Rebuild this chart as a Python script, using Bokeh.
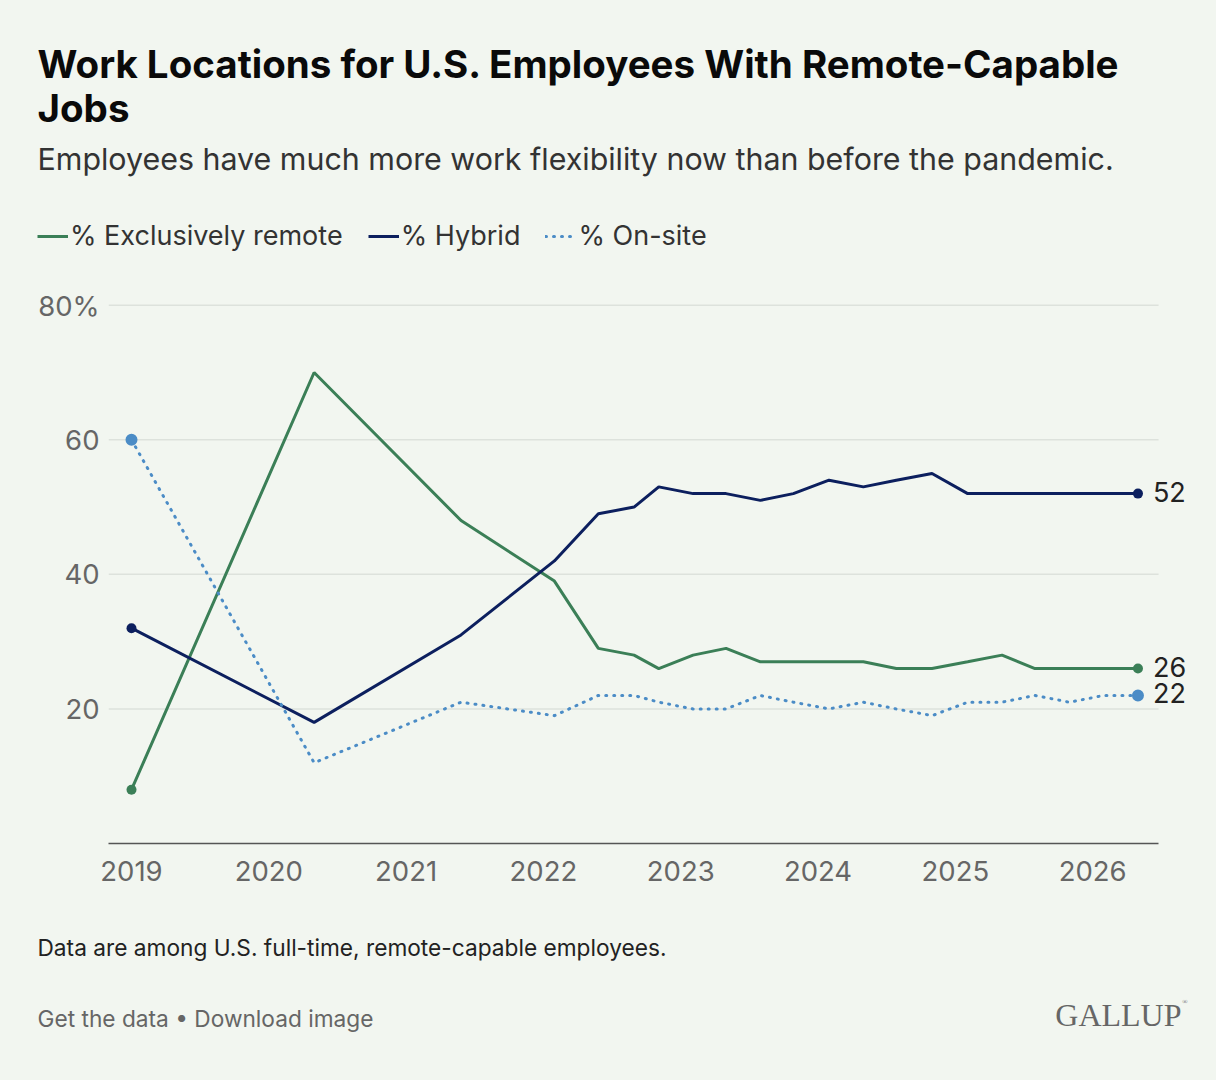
from bokeh.plotting import figure
from bokeh.layouts import column
from bokeh.models import (ColumnDataSource, Label, LabelSet, Legend, LegendItem,
                          FixedTicker, Range1d)
from bokeh.core.properties import value
from bokeh.embed import file_html
from bokeh.resources import INLINE

# ---- data ----
dates = [2019.0, 2020.33, 2021.40, 2022.08, 2022.40, 2022.66, 2022.84, 2023.09,
         2023.33, 2023.58, 2023.82, 2024.08, 2024.33, 2024.57, 2024.83, 2025.09,
         2025.34, 2025.58, 2025.83, 2026.08, 2026.33]
remote = [8, 70, 48, 39, 29, 28, 26, 28, 29, 27, 27, 27, 27, 26, 26, 27, 28, 26, 26, 26, 26]
hybrid = [32, 18, 31, 42, 49, 50, 53, 52, 52, 51, 52, 54, 53, 54, 55, 52, 52, 52, 52, 52, 52]
onsite = [60, 12, 21, 19, 22, 22, 21, 20, 20, 22, 21, 20, 21, 20, 19, 21, 21, 22, 21, 22, 22]
series_names = ["% Exclusively remote", "% Hybrid", "% On-site"]
year_ticks = [2019, 2020, 2021, 2022, 2023, 2024, 2025, 2026]
y_ticks = [20, 40, 60, 80]
y_tick_labels = ["20", "40", "60", "80%"]

GREEN = "#3b7f57"
NAVY = "#0c1f5e"
BLUE = "#4b8cc6"
BG = "#f2f6f0"
FONT = "Inter"

W = 1216
X0, X_DATA_END, X_FRAME_END = 2018.8325, 2026.48, 2026.902  # plot extent

src = ColumnDataSource(dict(x=dates, remote=remote, hybrid=hybrid, onsite=onsite))


def bare(height):
    f = figure(width=W, height=height, output_backend="svg", toolbar_location=None,
               x_range=Range1d(0, 1), y_range=Range1d(0, 1),
               x_axis_type=None, y_axis_type=None, min_border=0,
               min_border_left=0, min_border_right=0, min_border_top=0, min_border_bottom=0,
               background_fill_color=BG, border_fill_color=BG,
               outline_line_color=None)
    f.grid.visible = False
    return f


def txt(f, base_y, text, px, py, size, color, style="normal", font=FONT, align="left"):
    f.add_layout(Label(x=px, y=base_y - py, x_units="screen", y_units="screen",
                       text=text, text_font=font, text_font_size=size,
                       text_color=color, text_font_style=style,
                       text_align=align, text_baseline="alphabetic"))


# ---------------- header ----------------
HH = 288
head = bare(HH)
txt(head, HH, "Work Locations for U.S. Employees With Remote-Capable", 37, 63, "38.5px", "#0a0a0a", "bold")
txt(head, HH, "Jobs", 37, 107, "38.5px", "#0a0a0a", "bold")
txt(head, HH, "Employees have much more work flexibility now than before the pandemic.", 37, 158, "30.4px", "#333333")

# legend samples (same source; off the header's range so only the legend shows them)
d1 = head.line("x", "remote", source=src, line_color=GREEN, line_width=3)
d2 = head.line("x", "hybrid", source=src, line_color=NAVY, line_width=3)
d3 = head.line("x", "onsite", source=src, line_color=BLUE, line_width=3,
               line_dash="1 7", line_cap="round")
legend = Legend(items=[LegendItem(label=series_names[0], renderers=[d1]),
                       LegendItem(label=series_names[1], renderers=[d2]),
                       LegendItem(label=series_names[2], renderers=[d3])],
                location=(37, HH - 252), orientation="horizontal",
                background_fill_alpha=0, border_line_color=None,
                padding=0, margin=0, spacing=25, label_standoff=2,
                glyph_width=31, glyph_height=30, label_height=30,
                label_text_font=FONT, label_text_font_size="27px",
                label_text_color="#333333")
head.add_layout(legend, "center")

# ---------------- main chart ----------------
MH = 612
p = figure(width=W, height=MH, output_backend="svg", toolbar_location=None,
           x_range=Range1d(X0, X_FRAME_END), y_range=Range1d(0, 81),
           min_border_left=108, min_border_right=0, min_border_top=10,
           min_border_bottom=57, background_fill_color=BG,
           border_fill_color=BG, outline_line_color=None)

p.xaxis.ticker = FixedTicker(ticks=year_ticks)
p.xaxis.major_label_overrides = {y: str(y) for y in year_ticks}
p.xaxis.bounds = (X0, X_DATA_END)
p.xaxis.axis_line_color = "#555555"
p.xaxis.axis_line_width = 1.5
p.xaxis.major_tick_line_color = None
p.xaxis.minor_tick_line_color = None
p.xaxis.major_label_text_font = FONT
p.xaxis.major_label_text_font_size = "27.5px"
p.xaxis.major_label_text_color = "#666666"
p.xaxis.major_label_standoff = 11

p.yaxis.ticker = FixedTicker(ticks=y_ticks)
p.yaxis.major_label_overrides = {t: l for t, l in zip(y_ticks, y_tick_labels)}
p.yaxis.axis_line_color = None
p.yaxis.major_tick_line_color = None
p.yaxis.minor_tick_line_color = None
p.yaxis.major_label_text_font = FONT
p.yaxis.major_label_text_font_size = "27.5px"
p.yaxis.major_label_text_color = "#666666"
p.yaxis.major_label_standoff = 3

p.grid.visible = False
p.segment(x0=[X0] * len(y_ticks), y0=y_ticks, x1=[X_DATA_END] * len(y_ticks), y1=y_ticks,
          line_color="#dde2dc", line_width=1.5, level="underlay")

p.line("x", "remote", source=src, line_color=GREEN, line_width=3)
p.line("x", "hybrid", source=src, line_color=NAVY, line_width=3)
p.line("x", "onsite", source=src, line_color=BLUE, line_width=3,
       line_dash="1 7", line_cap="round")

ends = [0, len(dates) - 1]
for vals, col, sz in [(remote, GREEN, 10), (hybrid, NAVY, 10), (onsite, BLUE, 12)]:
    p.scatter([dates[i] for i in ends], [vals[i] for i in ends], size=sz,
              fill_color=col, line_color=None)

lab_src = ColumnDataSource(dict(x=[dates[-1]] * 3,
                                y=[remote[-1], hybrid[-1], onsite[-1]],
                                t=[str(remote[-1]), str(hybrid[-1]), str(onsite[-1])]))
p.add_layout(LabelSet(x="x", y="y", text="t", source=lab_src, x_offset=15, y_offset=2,
                      text_baseline="middle", text_font=value(FONT),
                      text_font_size=value("27px"), text_color=value("#222222")))

# ---------------- footer ----------------
FH = 1080 - HH - MH
foot = bare(FH)
txt(foot, 1080, "Data are among U.S. full-time, remote-capable employees.", 37, 947, "22.7px", "#222222")
txt(foot, 1080, "Get the data \u2022 Download image", 37, 1018, "22.7px", "#666666")
txt(foot, 1080, "GALLUP", 1181, 1014, "32px", "#666666", font="Liberation Serif", align="right")
txt(foot, 1080, "\u00ae", 1187, 1001, "7px", "#666666", font="Liberation Serif", align="right")

for f in (head, p, foot):
    if "frame_align" in f.properties():
        f.frame_align = False

layout = column(head, p, foot, spacing=0, styles={"background-color": BG})
open("out.html", "w").write(file_html(layout, INLINE))
